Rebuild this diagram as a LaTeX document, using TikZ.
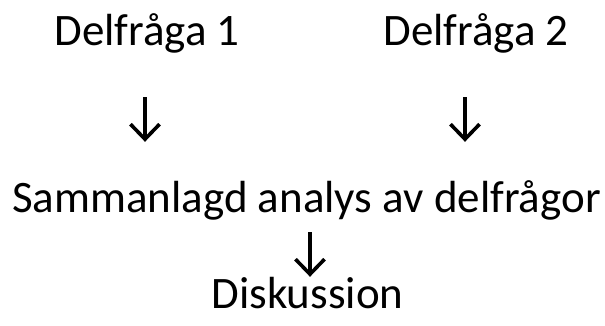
\documentclass[tikz,border=0pt]{standalone}
\usepackage{fontspec}
\setmainfont{Carlito}
\usetikzlibrary{arrows.meta}
\begin{document}
\begin{tikzpicture}[x=1pt,y=1pt,
  lbl/.style={inner sep=0pt, anchor=base, text height=30pt, text depth=8pt,
    font=\fontsize{45}{54}\selectfont},
  arr/.style={line width=3.6pt, -{Straight Barb[length=15pt,width=29pt,line width=3.6pt]}}]
\useasboundingbox (0,0) rectangle (605,325);
\node[lbl] (d1) at (147,280) {Delfråga 1};
\node[lbl] (d2) at (476,280) {Delfråga 2};
\node[lbl] (s) at (306.5,113) {Sammanlagd analys av delfrågor};
\node[lbl] (dk) at (307.5,17) {Diskussion};
\draw[arr, shorten <=44pt, shorten >=40pt] ([xshift=-2pt]d1.south) -- ([xshift=-2pt]d1.south |- s.north);
\draw[arr, shorten <=44pt, shorten >=40pt] ([xshift=-11pt]d2.south) -- ([xshift=-11pt]d2.south |- s.north);
\draw[arr, shorten <=12pt, shorten >=1pt] ([xshift=3.5pt]s.south) -- ([xshift=3.5pt]s.south |- dk.north);
\end{tikzpicture}
\end{document}
